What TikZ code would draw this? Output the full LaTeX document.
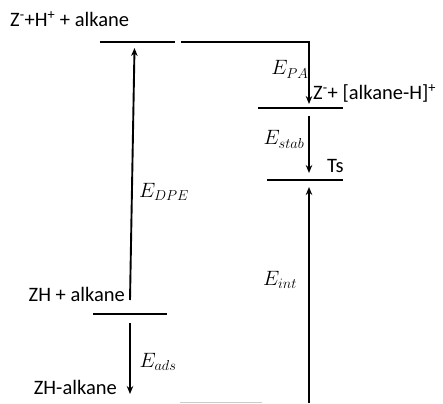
\documentclass[tikz,border=0pt]{standalone}
\usepackage{fontspec}
\setmainfont{Carlito}
\usetikzlibrary{arrows.meta}
\begin{document}
\begin{tikzpicture}[x=1pt,y=-1pt,
  level/.style={line width=1.9pt},
  arr/.style={line width=1.9pt,-{Stealth[length=8pt,width=6.5pt]}},
  lbl/.style={inner sep=0pt,font=\fontsize{20.5}{24}\selectfont},
  elbl/.style={inner sep=0pt,anchor=base,font=\fontsize{20}{23}\selectfont}]
\useasboundingbox (0,0) rectangle (443,403);
% levels
\coordinate (a1) at (100,42); \coordinate (a2) at (175,42);
\coordinate (b1) at (258,108); \coordinate (b2) at (343,108);
\coordinate (c1) at (267,180); \coordinate (c2) at (343,180);
\coordinate (d1) at (93,314); \coordinate (d2) at (167,314);
\draw[level] (a1) -- (a2);
\draw[level] (b1) -- (b2);
\draw[level] (c1) -- (c2);
\draw[level] (d1) -- (d2);
% texts
\node[lbl,anchor=base west] (t1) at (10,27) {Z\textsuperscript{-}+H\textsuperscript{+} + alkane};
\node[lbl,anchor=base west] (t2) at (313,100) {Z\textsuperscript{-}+ [alkane-H]\textsuperscript{+}};
\node[lbl,anchor=base west] (t3) at (327,172) {Ts};
\node[lbl,anchor=base east] (t4) at (125,301) {ZH + alkane};
\node[lbl,anchor=base east] (t5) at (117,394) {ZH-alkane};
% energy labels
\node[elbl] (ePA) at (290,75) {$E_{PA}$};
\node[elbl] (eST) at (284,145) {$E_{stab}$};
\node[elbl] (eDPE) at (164,197) {$E_{DPE}$};
\node[elbl] (eINT) at (280,285) {$E_{int}$};
\node[elbl] (eADS) at (158,367) {$E_{ads}$};
% connectors
\coordinate (p0) at (181,42); \coordinate (p1) at (309,42); \coordinate (p2) at (309,104);
\draw[arr] (p0) -- (p1) -- (p2);
\coordinate (s0) at (309,116); \coordinate (s1) at (309,173);
\draw[arr] (s0) -- (s1);
\coordinate (i0) at (309,403); \coordinate (i1) at (309,187);
\draw[arr] (i0) -- (i1);
\coordinate (q0) at (130,300); \coordinate (q1) at (134.5,48);
\draw[arr] (q0) -- (q1);
\coordinate (r0) at (130,323); \coordinate (r1) at (130,394);
\draw[arr] (r0) -- (r1);
\coordinate (g0) at (180,402); \coordinate (g1) at (262,402);
\draw[gray!40,line width=0.8pt] (g0) -- (g1);
\end{tikzpicture}
\end{document}
